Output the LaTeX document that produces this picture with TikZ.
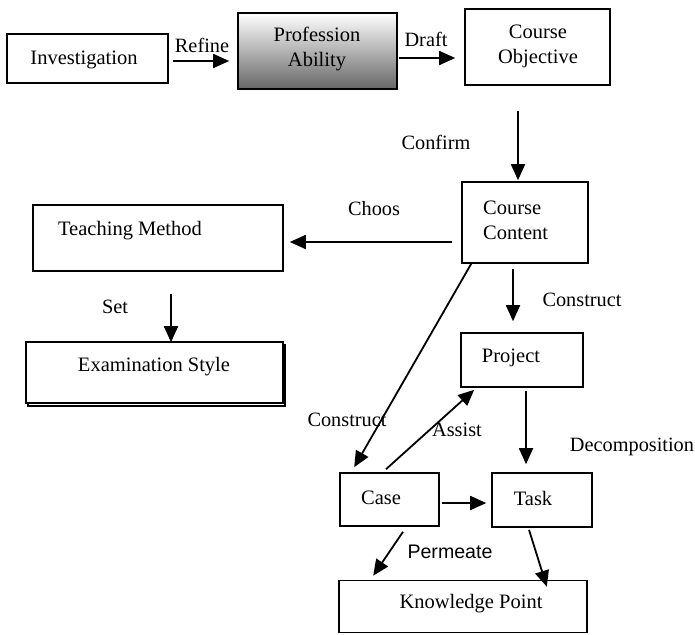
\documentclass[tikz,border=0pt]{standalone}
\usepackage{fontspec}
\setmainfont{Liberation Serif}
\newfontfamily\arialfont{Liberation Sans}
\usetikzlibrary{arrows.meta,calc}
\tikzset{
  box/.style={draw, line width=1.6pt, inner sep=0pt, fill=white},
  txt/.style={font=\fontsize{20.5}{25}\selectfont, inner sep=0pt, align=center},
  lbl/.style={font=\fontsize{20.3}{24}\selectfont, inner sep=0pt},
  sanslbl/.style={font=\arialfont\fontsize{19.6}{24}\selectfont, inner sep=0pt},
  arr/.style={line width=1.8pt, -{Triangle[length=16pt,width=14pt]}}
}
\begin{document}
\begin{tikzpicture}[x=1pt,y=-1pt]
\useasboundingbox (0,0) rectangle (695,634);
\fill[white] (0,0) rectangle (695,634);
% boxes
\node[box,minimum width=161pt,minimum height=49pt] (inv) at (87.5,58.5) {};
\node[box,minimum width=159pt,minimum height=76pt,top color=white,bottom color=black!60] (prof) at (317.5,51) {};
\node[box,minimum width=145pt,minimum height=76pt] (co) at (537.5,47) {};
\node[box,minimum width=126pt,minimum height=81pt] (cc) at (525,222.5) {};
\node[box,minimum width=250pt,minimum height=66pt] (tm) at (158,238) {};
\draw[line width=1.1pt] (28,345) rectangle (285,406);
\node[box,minimum width=257pt,minimum height=61pt] (es) at (154.5,372.5) {};
\node[box,minimum width=122pt,minimum height=54pt] (pr) at (522,360) {};
\node[box,minimum width=99pt,minimum height=53pt] (case) at (389.5,499.5) {};
\node[box,minimum width=100pt,minimum height=54pt] (task) at (542,500) {};
\node[box,minimum width=248pt,minimum height=52pt] (kp) at (463,606.5) {};
% box texts
\node[txt] (invT) at (84,60) {Investigation};
\node[txt] (profT) at (317,49) {Profession\\Ability};
\node[txt] (coT) at (538,46) {Course\\Objective};
\node[txt,align=left,anchor=west] (ccT) at (483,220) {Course\\Content};
\node[txt] (tmT) at (130,231) {Teaching Method};
\node[txt] (esT) at (154,367) {Examination Style};
\node[txt] (prT) at (511,358) {Project};
\node[txt] (caseT) at (381,498) {Case};
\node[txt] (taskT) at (533,498) {Task};
\node[txt] (kpT) at (471,604) {Knowledge Point};
% connectors
\draw[arr] ($(inv.east)+(4,2.5)$) -- ($(prof.west)+(-8,10)$);
\draw[arr] ($(prof.east)+(1,7)$) -- ($(co.west)+(-9,11)$);
\draw[arr] ($(co.south)+(-19.5,25)$) -- ($(cc.north)+(-7,-1)$);
\draw[arr] ($(cc.west)+(-9,19.5)$) -- ($(tm.east)+(6,4)$);
\draw[arr] ($(tm.south)+(13,22)$) -- ($(es.north)+(16.5,1)$);
\draw[arr] ($(cc.south)+(-12,5)$) -- ($(pr.north)+(-9,-11)$);
\draw[arr] ($(cc.south west)+(10,0)$) -- ($(case.north west)+(15,-5)$);
\draw[arr] ($(case.north)+(-3.5,-3)$) -- ($(pr.south west)+(14,2)$);
\draw[arr] ($(pr.south)+(4,3)$) -- ($(task.north)+(-16,-8)$);
\draw[arr] ($(case.east)+(2,3.5)$) -- ($(task.west)+(-5,3)$);
\draw[arr] ($(case.south)+(13.5,5)$) -- ($(kp.north west)+(35,-4)$);
\draw[arr] ($(task.south)+(-13,2)$) -- ($(kp.north east)+(-41,7)$);
% labels
\node[lbl] (lRefine) at (202,45) {Refine};
\node[lbl] (lDraft) at (426,39) {Draft};
\node[lbl] (lConfirm) at (436,142) {Confirm};
\node[lbl] (lChoos) at (374,209) {Choos};
\node[lbl] (lSet) at (115,307) {Set};
\node[lbl] (lCons1) at (582,300) {Construct};
\node[lbl] (lCons2) at (347,420) {Construct};
\node[lbl] (lAssist) at (457,430) {Assist};
\node[lbl] (lDecomp) at (632,447) {Decomposition};
\node[sanslbl] (lPerm) at (450,552) {Permeate};
\end{tikzpicture}
\end{document}
